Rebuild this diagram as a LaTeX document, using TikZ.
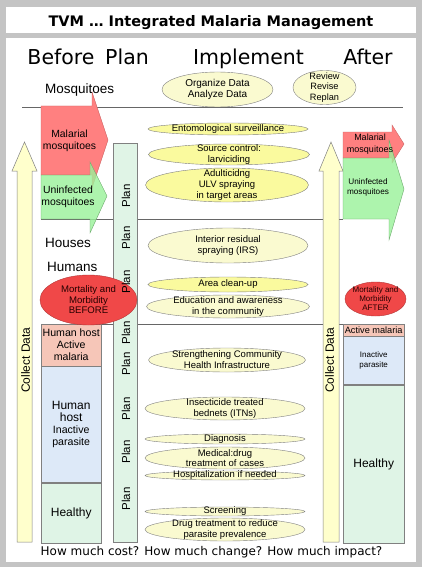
\documentclass[tikz,border=0pt]{standalone}
\usepackage{fontspec}
\setmainfont{Liberation Sans}
\newfontfamily\dejavu{DejaVu Sans}
\usetikzlibrary{shapes.geometric,positioning}
\definecolor{bggray}{HTML}{C4C4C4}
\definecolor{edgegray}{HTML}{808080}
\definecolor{malred}{HTML}{FF8080}
\definecolor{unigreen}{HTML}{99F299}
\definecolor{mortred}{HTML}{F04848}
\definecolor{activepink}{HTML}{F6C6B8}
\definecolor{inactblue}{HTML}{DDE9F8}
\definecolor{healthgreen}{HTML}{DFF4E6}
\definecolor{plangreen}{HTML}{E0F4E6}
\definecolor{collectyellow}{HTML}{FFFFCC}
\definecolor{actyellow}{HTML}{FAFA9E}
\definecolor{actpale}{HTML}{FAFAD0}

\begin{document}
\begin{tikzpicture}[
    x=1pt, y=-1pt,
    act/.style={ellipse, draw=edgegray, fill=actpale, inner sep=-8pt, align=center, font=\fontsize{9.5}{11}\selectfont},
    actstrong/.style={act, fill=actyellow},
    header/.style={anchor=base, font=\dejavu\fontsize{20.5}{24}\selectfont},
    rowlabel/.style={anchor=west, inner sep=0pt, font=\fontsize{13.5}{16}\selectfont},
    plantext/.style={rotate=90, font=\fontsize{11.5}{14}\selectfont},
    collecttext/.style={rotate=90, font=\fontsize{12}{14}\selectfont},
    hostbox/.style={rectangle, draw=edgegray, anchor=north west, inner sep=0pt, align=center, font=\fontsize{10.6}{12}\selectfont},
    arrowtext/.style={align=center, font=\fontsize{10.4}{12}\selectfont},
    mortality/.style={ellipse, draw=mortred!75!black, fill=mortred, inner sep=-8pt, align=center, text=black!85!red},
    blockred/.style={draw=malred!80!black, fill=malred, line width=0.4pt},
    blockgreen/.style={draw=unigreen!70!black, fill=unigreen, fill opacity=0.8, line width=0.4pt},
    collectarrow/.style={draw=edgegray, fill=collectyellow, line width=0.5pt},
    rowline/.style={draw=black!60, line width=0.6pt}
]
\useasboundingbox (0,0) rectangle (422,567);

% Frame
\fill[bggray] (0,0) rectangle (422,567);
\fill[white] (6,7) rectangle (416,33);
\fill[white] (6,38) rectangle (416,562);

\node[anchor=base, font=\dejavu\bfseries\fontsize{14.5}{17}\selectfont] (title) at (211,27) {TVM … Integrated Malaria Management};

% Column headers
\node[header] (before) at (61,65) {Before};
\node[header] (planhead) at (127,65) {Plan};
\node[header] (implement) at (248.5,65) {Implement};
\node[header] (after) at (368,65) {After};

% Row lines
\draw[rowline] (22,107) -- (403,107);
\draw[rowline] (41,219) -- (343,219);
\draw[rowline] (41,324) -- (343,324);

% Collect data arrows
\filldraw[collectarrow] (17,542) -- (17,171) -- (12,171) -- (24.5,142) -- (37,171) -- (32,171) -- (32,542) -- cycle;
\filldraw[collectarrow] (323,542) -- (323,171) -- (319,171) -- (331,142) -- (343,171) -- (339,171) -- (339,542) -- cycle;
\node[collecttext] (collectB) at (25.5,360) {Collect Data};
\node[collecttext] (collectA) at (329.5,360) {Collect Data};

% Plan column
\node[draw=edgegray, fill=plangreen, anchor=north west, inner sep=0pt, minimum width=24, minimum height=399] (plancol) at (113,143) {};

% Mosquito arrows
\filldraw[blockred] (41,106) -- (92,106) -- (92,92) -- (108,140) -- (92,188) -- (92,175) -- (41,175) -- cycle;
\filldraw[blockgreen] (41,175) -- (90,175) -- (90,162) -- (107,196) -- (90,233) -- (90,219) -- (41,219) -- cycle;
\filldraw[blockred] (343,132) -- (392,132) -- (392,125) -- (404,144) -- (392,163) -- (392,158) -- (343,158) -- cycle;
\filldraw[blockgreen] (343,158) -- (389,158) -- (389,140) -- (404,189) -- (389,240) -- (389,219) -- (343,219) -- cycle;
\node[arrowtext] (malB) at (69.5,141) {Malarial\\mosquitoes};
\node[arrowtext] (uninfB) at (68,197) {Uninfected\\mosquitoes};
\node[arrowtext, font=\fontsize{9}{11.5}\selectfont] (malA) at (370,144) {Malarial\\mosquitoes};
\node[arrowtext, font=\fontsize{8.2}{9.5}\selectfont] (uninfA) at (368,187.5) {Uninfected\\mosquitoes};

% Row labels
\node[rowlabel] (mosq) at (45,90) {Mosquitoes};
\node[rowlabel] (houses) at (45,243) {Houses};
\node[rowlabel] (humans) at (47,267) {Humans};

% Human host states
\node[hostbox, fill=activepink, minimum width=60, minimum height=42] (activeB) at (41,324) {Human host\\Active\\malaria};
\node[hostbox, fill=inactblue, minimum width=60, minimum height=116, below=0pt of activeB] (inactiveB) {{\fontsize{12}{13}\selectfont Human}\\{\fontsize{12}{13}\selectfont host}\\Inactive\\parasite};
\node[hostbox, fill=healthgreen, minimum width=60, minimum height=60, font=\fontsize{12}{14}\selectfont, below=0pt of inactiveB] (healthyB) {Healthy};
\node[hostbox, fill=activepink, minimum width=61, minimum height=12, font=\fontsize{9.2}{10}\selectfont] (activeA) at (343,324) {Active malaria};
\node[hostbox, fill=inactblue, minimum width=61, minimum height=48, font=\fontsize{8}{10.5}\selectfont, below=0pt of activeA] (inactiveA) {Inactive\\parasite};
\node[hostbox, fill=healthgreen, minimum width=61, minimum height=158, font=\fontsize{12}{14}\selectfont, below=0pt of inactiveA] (healthyA) {Healthy};

% Mortality
\node[mortality, minimum width=97, minimum height=50, font=\fontsize{9.6}{10.5}\selectfont] (mortB) at (88.5,300) {Mortality and\\Morbidity\\BEFORE};
\node[mortality, minimum width=61, minimum height=34, font=\fontsize{8}{9}\selectfont] (mortA) at (375.5,299) {Mortality and\\Morbidity\\AFTER};

% Plan labels
\node[plantext] (plan1) at (126,196) {Plan};
\node[plantext] (plan2) at (126,238) {Plan};
\node[plantext] (plan3) at (126,282) {Plan};
\node[plantext] (plan4) at (126,333) {Plan};
\node[plantext] (plan5) at (126,364) {Plan};
\node[plantext] (plan6) at (126,409) {Plan};
\node[plantext] (plan7) at (126,452) {Plan};
\node[plantext] (plan8) at (126,499) {Plan};

% Review steps
\node[act, minimum width=111, minimum height=35, font=\fontsize{10}{11}\selectfont] (organize) at (217.5,89.5) {Organize Data\\Analyze Data};
\node[act, minimum width=63, minimum height=34, font=\fontsize{9.2}{10.5}\selectfont] (review) at (324.5,87.5) {Review\\Revise\\Replan};

% Interventions
\node[actstrong, minimum width=160, minimum height=12] (ento) at (228,129) {Entomological surveillance};
\node[actstrong, minimum width=161, minimum height=21] (source) at (229,154.5) {Source control:\\larviciding};
\node[actstrong, minimum width=163, minimum height=34] (adult) at (227,185) {Adulticidng\\ULV spraying\\in target areas};
\node[act, minimum width=160, minimum height=35] (irs) at (228,245.5) {Interior residual\\spraying (IRS)};
\node[actstrong, minimum width=160, minimum height=15] (cleanup) at (228,284.5) {Area clean-up};
\node[act, minimum width=163, minimum height=23] (educ) at (228,306.5) {Education and awareness\\in the community};
\node[act, minimum width=157, minimum height=24] (strength) at (227,360) {Strengthening Community\\Health Infrastructure};
\node[act, minimum width=160, minimum height=23] (itn) at (225,408.5) {Insecticide treated\\bednets (ITNs)};
\node[act, minimum width=160, minimum height=10] (diag) at (225,439) {Diagnosis};
\node[act, minimum width=160, minimum height=22, font=\fontsize{9.5}{10}\selectfont] (medical) at (225,458) {Medical:drug\\treatment of cases};
\node[act, minimum width=160, minimum height=9] (hosp) at (225,475.5) {Hospitalization if needed};
\node[act, minimum width=160, minimum height=9] (screen) at (225,511.5) {Screening};
\node[act, minimum width=160, minimum height=23] (drugtx) at (225,529.5) {Drug treatment to reduce\\parasite prevalence};

% Questions
\node[anchor=base, font=\dejavu\fontsize{12}{14}\selectfont] (question) at (211.5,555) {How much cost? How much change? How much impact?};

\end{tikzpicture}
\end{document}
